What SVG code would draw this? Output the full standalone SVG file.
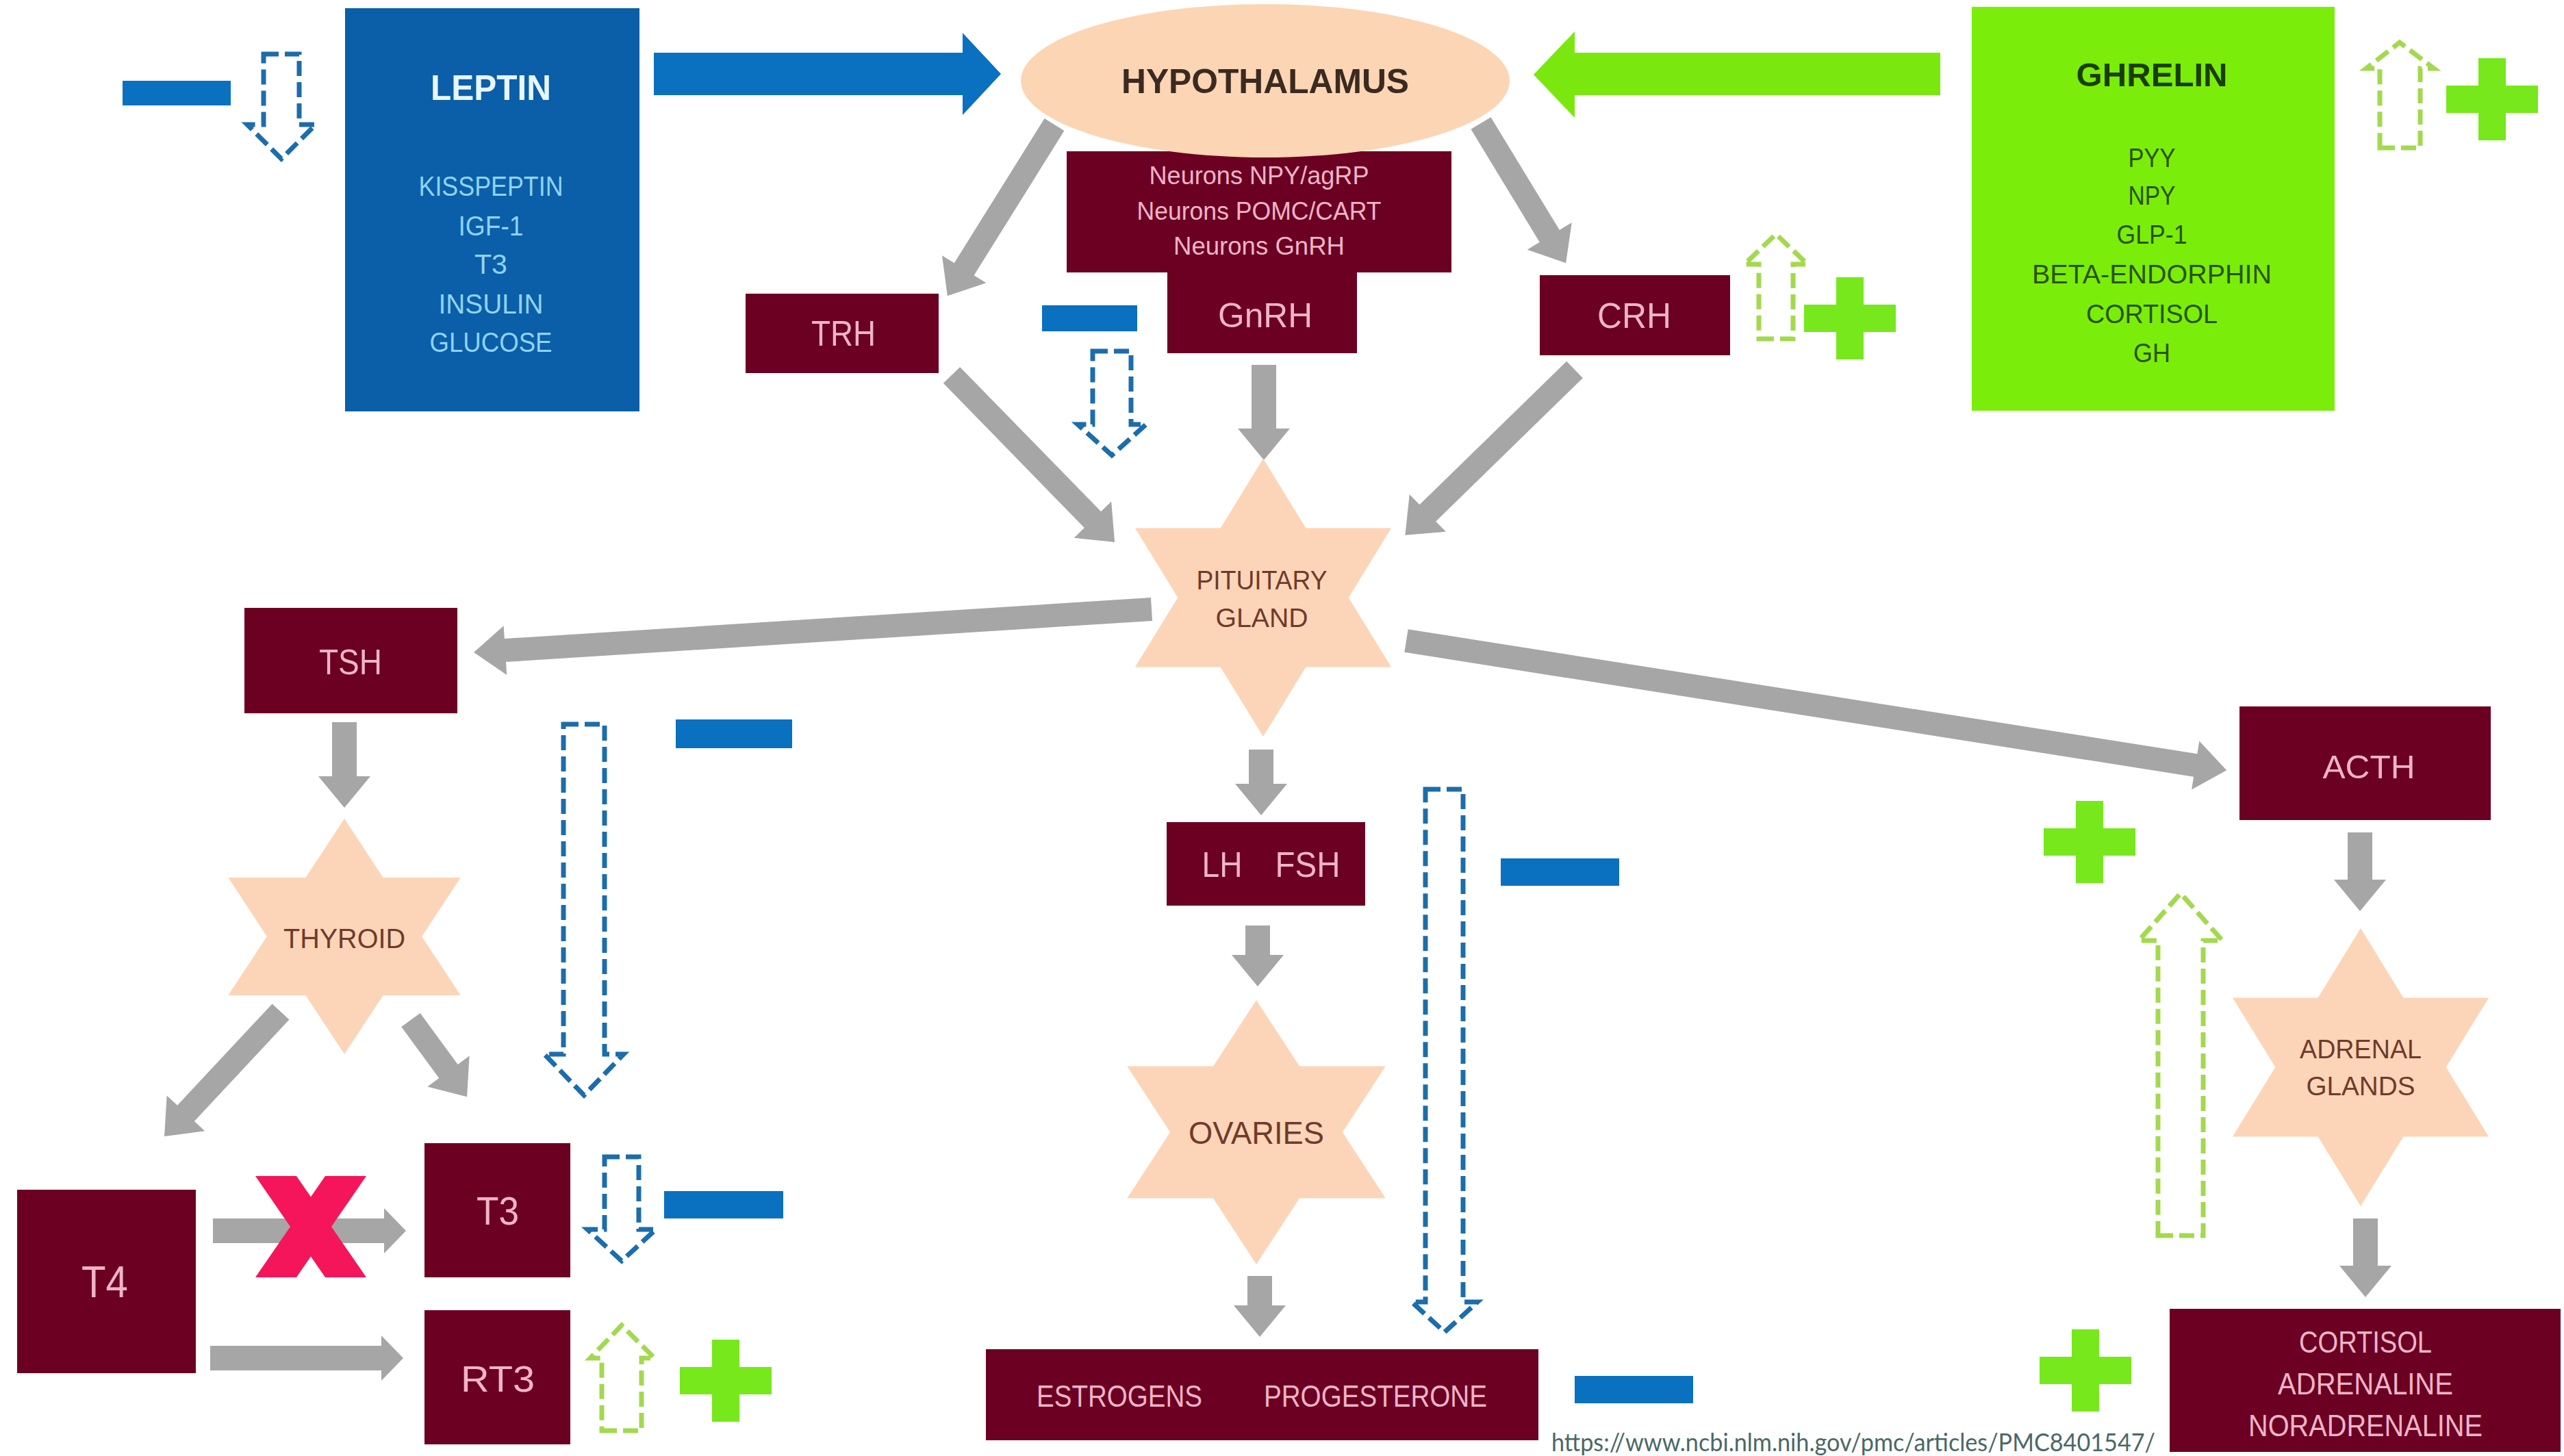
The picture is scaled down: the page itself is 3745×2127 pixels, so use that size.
<svg xmlns="http://www.w3.org/2000/svg" xmlns:xlink="http://www.w3.org/1999/xlink" width="3745" height="2127" viewBox="0 0 3745 2127">
<style>
.box{fill:#6b0022}
.star{fill:#fcd5b8}
.arrow{fill:#a6a6a6}
.minus{fill:#0a70c0}
.plus{fill:#77e81c}
.dashB{fill:none;stroke:#1c6dab;stroke-width:7;stroke-dasharray:22 9}
.dashG{fill:none;stroke:#a3d94e;stroke-width:7;stroke-dasharray:22 9}
.t{font-family:"Liberation Sans Narrow","Liberation Sans",Arial,sans-serif;text-anchor:middle}
.r{font-family:"Liberation Sans",Arial,sans-serif;text-anchor:middle}
.w{fill:#f0b4c8}
.s{fill:#6e3b2b}
</style>
<defs>
<polygon id="hex" points="0,-100 28.87,-50 86.6,-50 57.74,0 86.6,50 28.87,50 0,100 -28.87,50 -86.6,50 -57.74,0 -86.6,-50 -28.87,-50"/>
<path id="plus" d="M-20,-60 H20 V-20 H67 V20 H20 V60 H-20 V20 H-67 V-20 H-20 Z"/>
</defs>
<rect x="0" y="0" width="3745" height="2127" fill="#ffffff"/>

<g id="connectors">
<polygon fill="#0a70c0" points="955,77 1406,77 1406,48 1462,108 1406,168 1406,139 955,139"/>
<polygon fill="#7ae80e" points="2834,77 2300,77 2300,46 2240,109 2300,172 2300,139 2834,139"/>
<g class="arrow">
<polygon transform="translate(1540,182) rotate(121.96)" points="0,-17 249,-17 249,-38 295,0 249,38 249,17 0,17"/>
<polygon transform="translate(2163,180) rotate(58.7)" points="0,-17 193,-17 193,-38 239,0 193,38 193,17 0,17"/>
<polygon transform="translate(1846,533) rotate(90)" points="0,-18 93,-18 93,-38 139,0 93,38 93,18 0,18"/>
<polygon transform="translate(1390,548) rotate(45.71)" points="0,-17 295,-17 295,-38 341,0 295,38 295,17 0,17"/>
<polygon transform="translate(2300,540) rotate(135.7)" points="0,-17 300,-17 300,-38 346,0 300,38 300,17 0,17"/>
<polygon transform="translate(1682,890) rotate(176.36)" points="0,-17 946,-17 946,-36 992,0 946,36 946,17 0,17"/>
<polygon transform="translate(2054,936) rotate(8.97)" points="0,-17 1167,-17 1167,-36 1213,0 1167,36 1167,17 0,17"/>
<polygon transform="translate(1842,1095) rotate(90)" points="0,-18 50,-18 50,-38 96,0 50,38 50,18 0,18"/>
<polygon transform="translate(1837,1352) rotate(90)" points="0,-18 43,-18 43,-38 89,0 43,38 43,18 0,18"/>
<polygon transform="translate(1840,1864) rotate(90)" points="0,-18 43,-18 43,-38 89,0 43,38 43,18 0,18"/>
<polygon transform="translate(503,1055) rotate(90)" points="0,-18 79,-18 79,-38 125,0 79,38 79,18 0,18"/>
<polygon transform="translate(410,1478) rotate(133.05)" points="0,-17 203,-17 203,-38 249,0 203,38 203,17 0,17"/>
<polygon transform="translate(600,1490) rotate(53.8)" points="0,-17 93,-17 93,-38 139,0 93,38 93,17 0,17"/>
<polygon transform="translate(311,1798)" points="0,-18 250,-18 250,-33 282,0 250,33 250,18 0,18"/>
<polygon transform="translate(307,1984)" points="0,-18 250,-18 250,-33 282,0 250,33 250,18 0,18"/>
<polygon transform="translate(3447,1216) rotate(90)" points="0,-18 69,-18 69,-38 115,0 69,38 69,18 0,18"/>
<polygon transform="translate(3455,1780) rotate(90)" points="0,-18 69,-18 69,-38 115,0 69,38 69,18 0,18"/>
</g>
</g>

<g id="leptin">
<rect x="504" y="12" width="430" height="589" fill="#0b5ea8"/>
<text class="t" x="717" y="146" font-size="52" font-weight="bold" fill="#e8f6ff" textLength="176" lengthAdjust="spacingAndGlyphs">LEPTIN</text>
<g fill="#8fd3f2" font-size="40">
<text class="t" x="717" y="286" textLength="211" lengthAdjust="spacingAndGlyphs">KISSPEPTIN</text>
<text class="t" x="717" y="344" textLength="95" lengthAdjust="spacingAndGlyphs">IGF-1</text>
<text class="t" x="717" y="400" textLength="48" lengthAdjust="spacingAndGlyphs">T3</text>
<text class="t" x="717" y="458" textLength="153" lengthAdjust="spacingAndGlyphs">INSULIN</text>
<text class="t" x="717" y="514" textLength="179" lengthAdjust="spacingAndGlyphs">GLUCOSE</text>
</g>
</g>

<g id="ghrelin">
<rect x="2880" y="10" width="530" height="590" fill="#7aee0a"/>
<text class="t" x="3143" y="126" font-size="48" font-weight="bold" fill="#1c3d00" textLength="221" lengthAdjust="spacingAndGlyphs">GHRELIN</text>
<g fill="#2a5200" font-size="38">
<text class="t" x="3143" y="244" textLength="69" lengthAdjust="spacingAndGlyphs">PYY</text>
<text class="t" x="3143" y="299" textLength="69" lengthAdjust="spacingAndGlyphs">NPY</text>
<text class="t" x="3143" y="356" textLength="103" lengthAdjust="spacingAndGlyphs">GLP-1</text>
<text class="t" x="3143" y="414" textLength="350" lengthAdjust="spacingAndGlyphs">BETA-ENDORPHIN</text>
<text class="t" x="3143" y="472" textLength="192" lengthAdjust="spacingAndGlyphs">CORTISOL</text>
<text class="t" x="3143" y="529" textLength="54" lengthAdjust="spacingAndGlyphs">GH</text>
</g>
</g>

<g id="neurons">
<rect class="box" x="1558" y="221" width="562" height="177"/>
<g class="w" font-size="37">
<text class="t" x="1839" y="269" textLength="321" lengthAdjust="spacingAndGlyphs">Neurons NPY/agRP</text>
<text class="t" x="1839" y="321" textLength="357" lengthAdjust="spacingAndGlyphs">Neurons POMC/CART</text>
<text class="t" x="1839" y="372" textLength="250" lengthAdjust="spacingAndGlyphs">Neurons GnRH</text>
</g>
</g>

<g id="hypothalamus">
<ellipse cx="1848" cy="118" rx="357" ry="112" fill="#fcd5b5"/>
<text class="t" x="1848" y="136" font-size="50" font-weight="bold" fill="#3b2a20" textLength="420" lengthAdjust="spacingAndGlyphs">HYPOTHALAMUS</text>
</g>

<g id="gnrh">
<rect class="box" x="1705" y="396" width="277" height="120"/>
<text class="t w" x="1848" y="478" font-size="50" textLength="138" lengthAdjust="spacingAndGlyphs">GnRH</text>
</g>

<g id="trh">
<rect class="box" x="1089" y="429" width="282" height="116"/>
<text class="t w" x="1232" y="505" font-size="52" textLength="94" lengthAdjust="spacingAndGlyphs">TRH</text>
</g>

<g id="crh">
<rect class="box" x="2249" y="402" width="278" height="117"/>
<text class="t w" x="2387" y="479" font-size="52" textLength="108" lengthAdjust="spacingAndGlyphs">CRH</text>
</g>

<g id="pituitary">
<use xlink:href="#hex" class="star" transform="translate(1845,873) scale(2.16,2.03)"/>
<g class="s" font-size="38">
<text class="t" x="1843" y="861" textLength="191" lengthAdjust="spacingAndGlyphs">PITUITARY</text>
<text class="t" x="1843" y="916" textLength="135" lengthAdjust="spacingAndGlyphs">GLAND</text>
</g>
</g>

<g id="tsh">
<rect class="box" x="357" y="888" width="311" height="154"/>
<text class="t w" x="512" y="985" font-size="52" textLength="92" lengthAdjust="spacingAndGlyphs">TSH</text>
</g>

<g id="thyroid">
<use xlink:href="#hex" class="star" transform="translate(503,1368) scale(1.96,1.72)"/>
<text class="t s" x="503" y="1385" font-size="40" textLength="178" lengthAdjust="spacingAndGlyphs">THYROID</text>
</g>

<g id="t4">
<rect class="box" x="25" y="1738" width="261" height="268"/>
<text class="t w" x="153" y="1895" font-size="64" textLength="68" lengthAdjust="spacingAndGlyphs">T4</text>
</g>

<g id="t3">
<rect class="box" x="620" y="1670" width="213" height="196"/>
<text class="t w" x="727" y="1789" font-size="58" textLength="62" lengthAdjust="spacingAndGlyphs">T3</text>
</g>

<g id="rt3">
<rect class="box" x="620" y="1914" width="213" height="196"/>
<text class="t w" x="727" y="2033" font-size="54" textLength="108" lengthAdjust="spacingAndGlyphs">RT3</text>
</g>

<g id="lhfsh">
<rect class="box" x="1704" y="1201" width="290" height="122"/>
<text class="t w" x="1785" y="1281" font-size="52" textLength="59" lengthAdjust="spacingAndGlyphs">LH</text>
<text class="t w" x="1910" y="1281" font-size="52" textLength="95" lengthAdjust="spacingAndGlyphs">FSH</text>
</g>

<g id="ovaries">
<use xlink:href="#hex" class="star" transform="translate(1835,1654) scale(2.18,1.93)"/>
<text class="t s" x="1835" y="1671" font-size="46" textLength="198" lengthAdjust="spacingAndGlyphs">OVARIES</text>
</g>

<g id="estrogens">
<rect class="box" x="1440" y="1971" width="807" height="133"/>
<text class="t w" x="1635" y="2055" font-size="44" textLength="242" lengthAdjust="spacingAndGlyphs">ESTROGENS</text>
<text class="t w" x="2009" y="2055" font-size="44" textLength="326" lengthAdjust="spacingAndGlyphs">PROGESTERONE</text>
</g>

<g id="acth">
<rect class="box" x="3271" y="1032" width="367" height="166"/>
<text class="r w" x="3460" y="1137" font-size="48" textLength="135" lengthAdjust="spacingAndGlyphs">ACTH</text>
</g>

<g id="adrenal">
<use xlink:href="#hex" class="star" transform="translate(3448,1559) scale(2.16,2.03)"/>
<g class="s" font-size="38">
<text class="r" x="3448" y="1546" textLength="178" lengthAdjust="spacingAndGlyphs">ADRENAL</text>
<text class="r" x="3448" y="1600" textLength="159" lengthAdjust="spacingAndGlyphs">GLANDS</text>
</g>
</g>

<g id="cortisol">
<rect class="box" x="3169" y="1912" width="571" height="209"/>
<g class="w" font-size="44">
<text class="r" x="3455" y="1976" textLength="194" lengthAdjust="spacingAndGlyphs">CORTISOL</text>
<text class="r" x="3455" y="2037" textLength="256" lengthAdjust="spacingAndGlyphs">ADRENALINE</text>
<text class="r" x="3455" y="2098" textLength="342" lengthAdjust="spacingAndGlyphs">NORADRENALINE</text>
</g>
</g>

<g id="indicators">
<rect class="minus" x="179" y="118" width="158" height="36"/>
<rect class="minus" x="1522" y="446" width="139" height="38"/>
<rect class="minus" x="987" y="1051" width="170" height="42"/>
<rect class="minus" x="2192" y="1254" width="173" height="40"/>
<rect class="minus" x="970" y="1740" width="174" height="40"/>
<rect class="minus" x="2300" y="2010" width="173" height="40"/>
<use xlink:href="#plus" class="plus" x="3640" y="145"/>
<use xlink:href="#plus" class="plus" x="2702" y="465"/>
<use xlink:href="#plus" class="plus" x="1060" y="2017"/>
<use xlink:href="#plus" class="plus" x="3052" y="1230"/>
<use xlink:href="#plus" class="plus" x="3046" y="2002"/>
<path class="dashB" d="M385,79 H437 V182 H461 L411,232 L361,182 H385 Z"/>
<path class="dashB" d="M1596,513 H1652 V620 H1674 L1624,665 L1574,620 H1596 Z"/>
<path class="dashB" d="M823,1058 H883 V1540 H911 L853,1600 L795,1540 H823 Z"/>
<path class="dashB" d="M2082,1153 H2137 V1902 H2158 L2110,1946 L2062,1902 H2082 Z"/>
<path class="dashB" d="M883,1690 H933 V1796 H958 L908,1842 L858,1796 H883 Z"/>
<path class="dashG" d="M3476,216 H3535 V100 H3555 L3505,62 L3456,100 H3476 Z"/>
<path class="dashG" d="M2569,495 H2619 V386 H2640 L2594,342 L2548,386 H2569 Z"/>
<path class="dashG" d="M879,2090 H937 V1984 H956 L908,1936 L862,1984 H879 Z"/>
<path class="dashG" d="M3152,1805 H3218 V1374 H3246 L3185,1305 L3124,1374 H3152 Z"/>
<g fill="#f5155a">
<polygon points="373,1718 433,1718 535,1866 475,1866"/>
<polygon points="475,1718 535,1718 433,1866 373,1866"/>
</g>
</g>

<text x="2266" y="2120" font-family="Lato,'Open Sans',sans-serif" font-size="36" fill="#496868" textLength="882" lengthAdjust="spacingAndGlyphs">https://www.ncbi.nlm.nih.gov/pmc/articles/PMC8401547/</text>
</svg>
